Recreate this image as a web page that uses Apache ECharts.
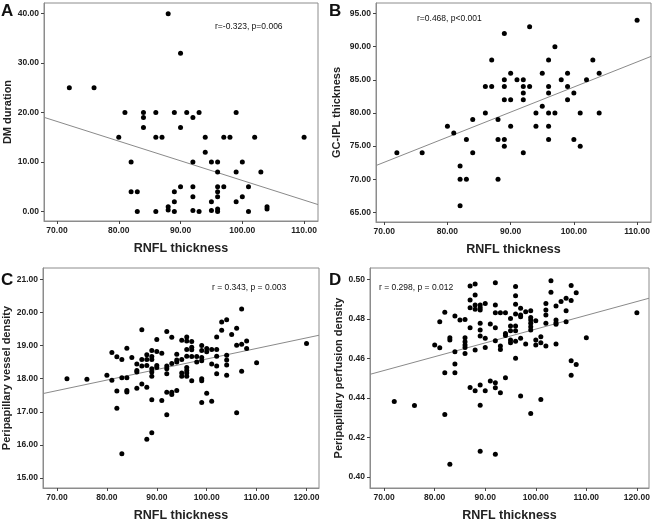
<!DOCTYPE html>
<html>
<head>
<meta charset="utf-8">
<script src="https://cdn.jsdelivr.net/npm/echarts@6/dist/echarts.min.js"></script>
<style>
  html, body { margin: 0; padding: 0; background: #fff; }
  #chart { width: 654px; height: 520px; }
</style>
</head>
<body>
<div id="chart"></div>
<script>
// panel A: RNFL vs DM duration
const rnflA = [88, 90, 72, 76, 81, 84, 84, 84, 86, 89, 91, 92, 93, 90, 99, 80, 86, 87, 94, 97, 98, 102, 110, 94,
  82, 92, 95, 96, 100, 96, 99, 103, 90, 92, 96, 97, 101, 82, 83, 89, 96, 92, 96, 100, 89, 95, 99, 88, 104, 104,
  83, 86, 88, 89, 92, 93, 95, 96, 96, 101];
const dmDuration = [40, 32, 25, 25, 20, 20, 19, 17, 20, 20, 20, 19, 20, 17, 20, 15, 15, 15, 15, 15, 15, 15, 15, 12,
  10, 10, 10, 10, 10, 8, 8, 8, 5, 5, 5, 5, 5, 4, 4, 4, 4, 3, 3, 3, 2, 2, 2, 1, 1, 0.5,
  0, 0, 0.3, 0, 0.2, 0, 0.2, 0.5, 0, 0];

// panel B: RNFL vs GC-IPL thickness
const rnflB = [110, 93, 89, 97, 87, 96, 103, 90, 95, 99, 104, 89, 91, 92, 98, 102, 86, 87, 89, 92, 93, 96, 99,
  92, 96, 100, 89, 90, 92, 99, 95, 86, 94, 96, 97, 101, 104, 84, 88, 80, 90, 94, 96, 81, 83, 88, 89, 96, 100,
  89, 101, 72, 76, 84, 92, 82, 82, 83, 88, 82];
const gcipl = [94, 93, 92, 90, 88, 88, 88, 86, 86, 86, 86, 85, 85, 85, 85, 85, 84, 84, 84, 84, 84, 84, 84,
  83, 83, 83, 82, 82, 82, 82, 81, 80, 80, 80, 80, 80, 80, 79, 79, 78, 78, 78, 78, 77, 76, 76, 76, 76, 76,
  75, 75, 74, 74, 74, 74, 72, 70, 70, 70, 66];

// panel C: RNFL vs peripapillary vessel density
const rnflC = [72, 76, 80, 81, 81, 82, 82, 82, 83, 83, 83, 84, 84, 84, 84, 85, 86, 86, 86, 86, 87, 87, 87, 87,
  88, 88, 88, 88, 88, 89, 89, 89, 89, 89, 89, 89, 89, 90, 90, 90, 90, 91, 91, 92, 92, 92, 92, 92, 92,
  93, 93, 93, 93, 94, 94, 94, 94, 95, 95, 95, 95, 96, 96, 96, 96, 96, 96, 96, 96, 97, 97, 97, 97, 97,
  98, 98, 99, 99, 99, 99, 99, 99, 99, 100, 100, 100, 101, 101, 101, 102, 102, 102, 102, 102, 103, 103,
  104, 104, 104, 104, 104, 105, 106, 106, 106, 107, 107, 107, 108, 108, 110, 120];
const vesselDensity = [18.0, 17.98, 18.1, 18.79, 17.95, 18.66, 17.63, 17.11, 18.58, 18.03, 15.73,
  18.92, 18.03, 17.64, 17.6, 18.64, 18.44, 18.25, 18.2, 17.71, 19.48, 18.58, 18.38, 17.84,
  18.72, 18.58, 18.4, 17.74, 16.17, 18.85, 18.67, 18.58, 18.3, 18.2, 18.07, 17.36, 16.37,
  19.18, 18.82, 18.4, 18.34, 18.77, 17.34, 19.42, 18.38, 18.3, 18.15, 17.59, 16.91,
  19.25, 18.46, 17.59, 17.52, 18.74, 18.56, 18.5, 17.64, 19.16, 18.58, 18.17, 18.07,
  19.26, 19.14, 18.88, 18.68, 18.34, 18.25, 18.17, 18.07, 19.12, 18.95, 18.87, 18.67, 17.94,
  18.67, 18.5, 19.0, 18.85, 18.64, 18.54, 18.0, 17.94, 17.28, 18.91, 18.81, 17.56, 18.88, 18.44, 17.32,
  19.26, 18.88, 18.68, 18.38, 18.15, 19.71, 19.46, 19.78, 18.71, 18.56, 18.41, 18.1, 19.33,
  19.52, 19.01, 16.97, 20.1, 19.04, 18.22, 19.14, 18.91, 18.48, 19.06];

// panel D: RNFL vs peripapillary perfusion density
const rnflD = [72, 76, 80, 81, 81, 82, 82, 82, 83, 83, 83, 84, 84, 84, 84, 85, 86, 86, 86, 86, 86, 86,
  87, 87, 87, 87, 87, 88, 88, 88, 88, 88, 88, 89, 89, 89, 89, 89, 89, 89, 89, 89, 90, 90, 90, 90, 91, 91,
  92, 92, 92, 92, 92, 92, 92, 92, 93, 93, 93, 93, 94, 94, 94, 94, 95, 95, 95, 95, 95,
  96, 96, 96, 96, 96, 96, 96, 96, 97, 97, 97, 97, 97, 98, 98, 99, 99, 99, 99, 99, 99, 99,
  100, 100, 100, 101, 101, 101, 102, 102, 102, 102, 102, 103, 103, 104, 104, 104, 104, 104, 105,
  106, 106, 106, 107, 107, 107, 107, 108, 108, 110, 120];
const perfusionDensity = [0.4382, 0.4361, 0.4667, 0.4785, 0.4654, 0.4833, 0.4527, 0.4316, 0.4704, 0.4693, 0.4064,
  0.4814, 0.4633, 0.4571, 0.4527, 0.4794, 0.4797, 0.4704, 0.4684, 0.4667, 0.4655, 0.4625,
  0.4966, 0.4895, 0.4856, 0.4755, 0.4453, 0.4976, 0.4921, 0.487, 0.4848, 0.4642, 0.4436,
  0.487, 0.4856, 0.4845, 0.4777, 0.4743, 0.4713, 0.4465, 0.4363, 0.413, 0.4878, 0.4701, 0.4655, 0.4436, 0.4774, 0.4485,
  0.4983, 0.487, 0.4831, 0.4755, 0.4689, 0.4476, 0.4451, 0.4115, 0.4831, 0.4662, 0.4645, 0.4426,
  0.4831, 0.4726, 0.4715, 0.4502, 0.4802, 0.4764, 0.474, 0.4693, 0.4679,
  0.4963, 0.4916, 0.4873, 0.4824, 0.4764, 0.474, 0.4687, 0.46, 0.4853, 0.4819, 0.4811, 0.4701, 0.4409,
  0.4836, 0.4672, 0.4841, 0.4807, 0.4794, 0.4777, 0.476, 0.4743, 0.4321,
  0.479, 0.4693, 0.4667, 0.4709, 0.4679, 0.4392, 0.4878, 0.4845, 0.4819, 0.4777, 0.4662, 0.4992, 0.4934,
  0.4865, 0.4794, 0.478, 0.4772, 0.4672, 0.4887, 0.4904, 0.4841, 0.4785,
  0.4968, 0.4892, 0.4588, 0.4515, 0.4932, 0.4569, 0.4704, 0.4831];

// fitted lines, read at the plot edges
const fitA = [[67.9, 19.05], [112.25, 1.42]];
const fitB = [[68.7, 72.07], [112.2, 88.54]];
const fitC = [[67.2, 17.55], [122.5, 19.31]];
const fitD = [[67.2, 0.4519], [122.4, 0.4904]];

// tick labels
const xTicksAB = [70, 80, 90, 100, 110];
const xTicksCD = [70, 80, 90, 100, 110, 120];
const yTicksA = [0, 10, 20, 30, 40];
const yTicksB = [65, 70, 75, 80, 85, 90, 95];
const yTicksC = [15, 16, 17, 18, 19, 20, 21];
const yTicksD = [0.40, 0.42, 0.44, 0.46, 0.48, 0.50];

const stats = ["r=-0.323, p=0.006", "r=0.468, p<0.001", "r = 0.343, p = 0.003", "r = 0.298, p = 0.012"];

const FONT = "Liberation Sans, Arial, sans-serif";
const frameColor = "#8c8c8c";

const zip = (xs, ys) => xs.map((x, i) => [x, ys[i]]);

function xAxis(gridIndex, min, max, ticks) {
  return {
    type: "value", gridIndex, min, max,
    name: "RNFL thickness", nameLocation: "middle", nameGap: 21,
    nameTextStyle: { fontFamily: FONT, fontWeight: "bold", fontSize: 12.5, color: "#222" },
    axisLine: { show: true, onZero: false, lineStyle: { color: frameColor } },
    axisTick: { show: true, length: 3, customValues: ticks, lineStyle: { color: "#444" } },
    axisLabel: {
      customValues: ticks, formatter: v => v.toFixed(2), margin: 5,
      fontFamily: FONT, fontWeight: "bold", fontSize: 8.5, color: "#222"
    },
    splitLine: { show: false }
  };
}

function yAxis(gridIndex, min, max, ticks, name, gap) {
  return {
    type: "value", gridIndex, min, max,
    name, nameLocation: "middle", nameGap: gap,
    nameTextStyle: { fontFamily: FONT, fontWeight: "bold", fontSize: 11, color: "#222" },
    axisLine: { show: true, onZero: false, lineStyle: { color: frameColor } },
    axisTick: { show: true, length: 3, customValues: ticks, lineStyle: { color: "#444" } },
    axisLabel: {
      customValues: ticks, formatter: v => v.toFixed(2), margin: 5,
      fontFamily: FONT, fontWeight: "bold", fontSize: 8.5, color: "#222"
    },
    splitLine: { show: false }
  };
}

function grid(left, top, width, height) {
  return { left, top, width, height, show: true, borderColor: frameColor, borderWidth: 1, outerBoundsMode: "none" };
}

function scatter(i, xs, ys) {
  return {
    type: "scatter", xAxisIndex: i, yAxisIndex: i, data: zip(xs, ys),
    symbolSize: 5, itemStyle: { color: "#000", opacity: 1 }, z: 3, silent: true
  };
}

function fitLine(i, pts) {
  return {
    type: "line", xAxisIndex: i, yAxisIndex: i, data: pts,
    symbol: "none", lineStyle: { color: "#8a8a8a", width: 1 }, z: 2, silent: true
  };
}

function label(text, x, y, size, bold) {
  return {
    type: "text", x, y,
    style: { text, fontFamily: FONT, fontSize: size, fontWeight: bold ? "bold" : "normal", fill: "#111", verticalAlign: "middle" }
  };
}

const chart = echarts.init(document.getElementById("chart"), null, { renderer: "canvas" });

chart.setOption({
  animation: false,
  backgroundColor: "#fff",
  grid: [
    grid(44, 3, 274, 218),
    grid(376, 3, 275, 219),
    grid(43, 268, 276, 220),
    grid(370, 268, 279, 220)
  ],
  xAxis: [
    xAxis(0, 67.9, 112.25, xTicksAB),
    xAxis(1, 68.7, 112.2, xTicksAB),
    xAxis(2, 67.2, 122.5, xTicksCD),
    xAxis(3, 67.2, 122.4, xTicksCD)
  ],
  yAxis: [
    yAxis(0, -1.9, 42.15, yTicksA, "DM duration", 29.5),
    yAxis(1, 63.55, 96.6, yTicksB, "GC-IPL thickness", 33.5),
    yAxis(2, 14.7, 21.34, yTicksC, "Peripapillary vessel density", 29.5),
    yAxis(3, 0.3944, 0.5057, yTicksD, "Peripapillary perfusion density", 25.5)
  ],
  series: [
    fitLine(0, fitA), scatter(0, rnflA, dmDuration),
    fitLine(1, fitB), scatter(1, rnflB, gcipl),
    fitLine(2, fitC), scatter(2, rnflC, vesselDensity),
    fitLine(3, fitD), scatter(3, rnflD, perfusionDensity)
  ],
  graphic: [
    label("A", 1, 11, 17, true),
    label("B", 329, 11, 17, true),
    label("C", 1, 280, 17, true),
    label("D", 329, 280, 17, true),
    label(stats[0], 215, 27, 8.5, false),
    label(stats[1], 417, 19, 8.5, false),
    label(stats[2], 212, 288, 8.5, false),
    label(stats[3], 379, 288, 8.5, false)
  ]
});
</script>
</body>
</html>
